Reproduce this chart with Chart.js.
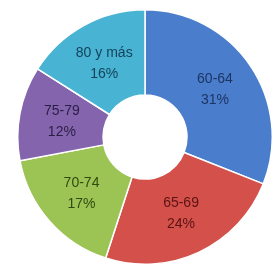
<!DOCTYPE html>
<html>
<head>
<meta charset="utf-8">
<script src="https://cdn.jsdelivr.net/npm/chart.js@4/dist/chart.umd.min.js"></script>
<style>
  html, body { margin: 0; padding: 0; background: #fff; }
  #wrap { width: 273px; height: 273px; position: relative; }
</style>
</head>
<body>
<div id="wrap"><canvas id="c"></canvas></div>
<script>
const categories = ["60-64", "65-69", "70-74", "75-79", "80 y más"];
const shares = [31, 24, 17, 12, 16];
const colors = ["#4a7dcb", "#d4504b", "#9cc454", "#8364ad", "#48b3d3"];
const labelColors = ["#1d3563", "#5a1414", "#2f4a12", "#2c1d45", "#14435a"];

// draws "category / pct%" inside each slice
const sliceLabels = {
  id: "sliceLabels",
  afterDatasetsDraw(chart) {
    const ctx = chart.ctx;
    const meta = chart.getDatasetMeta(0);
    ctx.save();
    ctx.font = "14px 'Liberation Sans', Arial, sans-serif";
    ctx.textAlign = "center";
    ctx.textBaseline = "middle";
    meta.data.forEach((arc, i) => {
      const p = arc.tooltipPosition();
      ctx.fillStyle = labelColors[i];
      ctx.fillText(categories[i], p.x, p.y - 10);
      ctx.fillText(shares[i] + "%", p.x, p.y + 11);
    });
    ctx.restore();
  },
};

new Chart(document.getElementById("c"), {
  type: "doughnut",
  data: {
    labels: categories,
    datasets: [{
      data: shares,
      backgroundColor: colors,
      borderColor: "#ffffff",
      borderWidth: 1.5,
    }],
  },
  options: {
    responsive: true,
    maintainAspectRatio: false,
    animation: false,
    cutout: "33%",
    layout: { padding: { left: 17, right: 0, top: 9, bottom: 8 } },
    plugins: {
      legend: { display: false },
      tooltip: { enabled: false },
    },
  },
  plugins: [sliceLabels],
});
</script>
</body>
</html>
